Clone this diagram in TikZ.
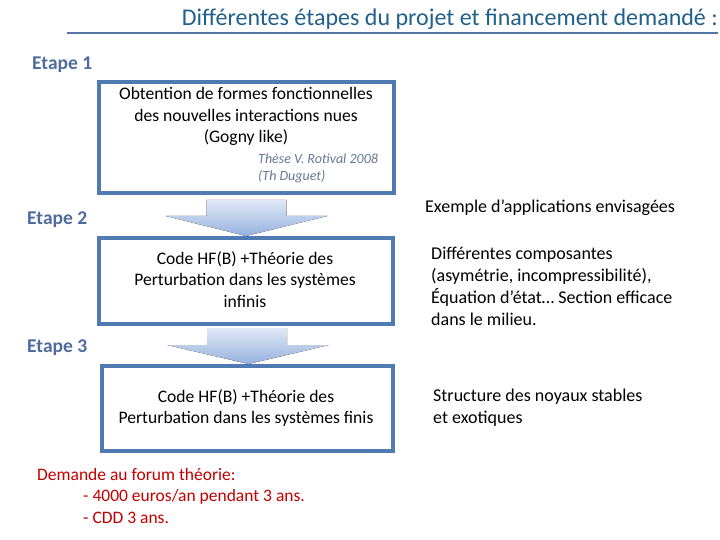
\documentclass[tikz,border=0pt]{standalone}
\usepackage{fontspec}
\setmainfont{Carlito}
\usetikzlibrary{calc}
\definecolor{boxblue}{RGB}{80,122,178}
\definecolor{etapeblue}{RGB}{78,108,158}
\definecolor{titleblue}{RGB}{32,96,140}
\definecolor{lineblue}{RGB}{85,118,165}
\definecolor{notegrey}{RGB}{100,120,150}
\definecolor{arrowtop}{RGB}{224,232,246}
\definecolor{arrowbot}{RGB}{150,178,222}
\definecolor{demred}{RGB}{192,0,0}
\tikzset{
  stepbox/.style={draw=boxblue, line width=4pt, rectangle, inner sep=0pt},
  boxtext/.style={inner sep=0pt, align=center, font=\fontsize{17.6}{21.5}\selectfont},
  sidetext/.style={inner sep=0pt, align=left, anchor=west, font=\fontsize{18}{22}\selectfont},
  etape/.style={inner sep=0pt, anchor=west, text=etapeblue, font=\fontsize{19.5}{22}\selectfont\bfseries},
  note/.style={inner sep=0pt, align=left, anchor=west, text=notegrey, font=\fontsize{14}{17}\selectfont\itshape},
  blockarrow/.style={top color=arrowtop, bottom color=arrowbot, draw=none},
}
\begin{document}
\begin{tikzpicture}[x=1pt,y=1pt]
\useasboundingbox (0,0) rectangle (720,-540);
% title
\node[inner sep=0pt, anchor=east, text=titleblue, font=\fontsize{24}{28}\selectfont] (title) at (718,-19) {Différentes étapes du projet et financement demandé :};
\coordinate (ulA) at (67,-33);
\coordinate (ulB) at (718,-33);
\draw[lineblue, line width=2pt] (ulA) -- (ulB);
% etapes
\node[etape] (e1) at (32,-65) {Etape 1};
\node[etape] (e2) at (27,-220) {Etape 2};
\node[etape] (e3) at (27,-348) {Etape 3};
% boxes
\node[stepbox, minimum width=295pt, minimum height=111pt] (b1) at (246.5,-137.5) {};
\node[stepbox, minimum width=294pt, minimum height=86pt] (b2) at (246,-281) {};
\node[stepbox, minimum width=291pt, minimum height=85pt] (b3) at (247.5,-408.5) {};
% box texts
\node[boxtext] (t1) at (246,-116.5) {Obtention de formes fonctionnelles\\des nouvelles interactions nues\\(Gogny like)};
\node[note] (n1) at (258,-168.5) {Thèse V. Rotival 2008\\(Th Duguet)};
\node[boxtext] (t2) at (245,-279.5) {Code HF(B) +Théorie des\\Perturbation dans les systèmes\\infinis};
\node[boxtext] (t3) at (246,-408) {Code HF(B) +Théorie des\\Perturbation dans les systèmes finis};
% block arrows
\fill[blockarrow] ($(b1.south)+(-40,-5)$) -- ($(b1.south)+(40,-5)$) -- ($(b1.south)+(40,-21)$) -- ($(b1.south)+(81,-21)$) -- ($(b2.north)+(0,0)$) -- ($(b1.south)+(-81,-21)$) -- ($(b1.south)+(-40,-21)$) -- cycle;
\fill[blockarrow] ($(b2.south)+(-39,-2)$) -- ($(b2.south)+(41,-2)$) -- ($(b2.south)+(41,-19)$) -- ($(b2.south)+(83,-19)$) -- ($(b3.north)+(1,0)$) -- ($(b2.south)+(-79,-19)$) -- ($(b2.south)+(-39,-19)$) -- cycle;
% redraw borders over arrow tips
\node[stepbox, minimum width=294pt, minimum height=86pt] at (b2) {};
\node[stepbox, minimum width=291pt, minimum height=85pt] at (b3) {};
% right side texts
\node[sidetext] (ex) at (425,-208) {Exemple d’applications envisagées};
\node[sidetext] (r1) at (431,-286) {Différentes composantes\\(asymétrie, incompressibilité),\\Équation d’état… Section efficace\\dans le milieu.};
\node[sidetext] (r2) at (433,-407.5) {Structure des noyaux stables\\et exotiques};
% demand
\node[inner sep=0pt, anchor=west, text=demred, font=\fontsize{17.5}{21.5}\selectfont] (d0) at (37,-474) {Demande au forum théorie:};
\node[inner sep=0pt, anchor=west, text=demred, align=left, font=\fontsize{17.5}{21.5}\selectfont] (d1) at (83,-506.5) {- 4000 euros/an pendant 3 ans.\\- CDD 3 ans.};
\end{tikzpicture}
\end{document}
